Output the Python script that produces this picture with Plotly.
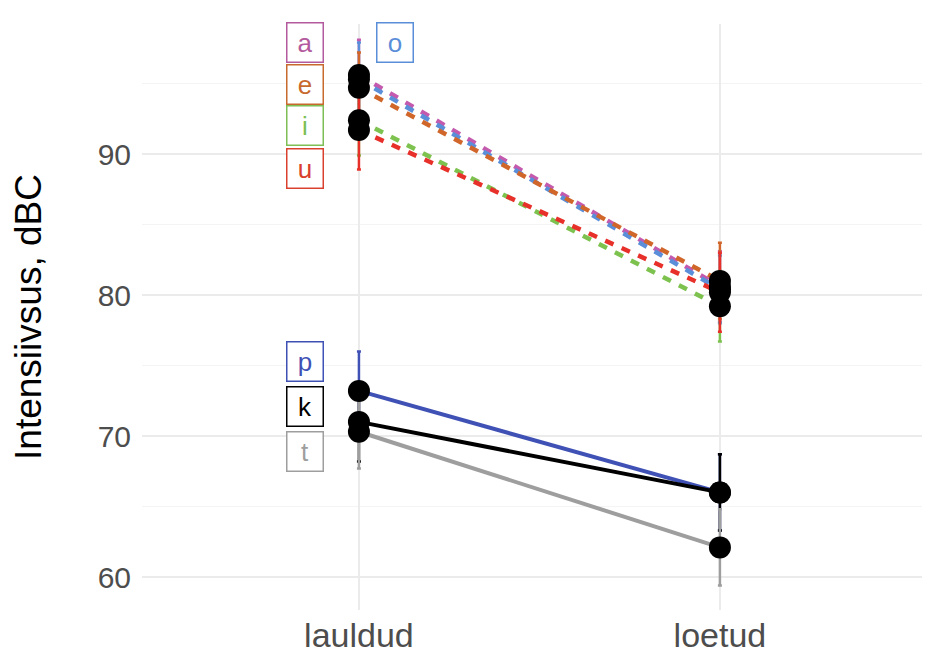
import plotly.graph_objects as go

conditions = ["lauldud", "loetud"]

vowels = ["a", "o", "e", "i", "u"]
vowel_means = {
    "a": [95.6, 80.6],
    "o": [95.3, 80.4],
    "e": [94.7, 81.0],
    "i": [92.4, 79.2],
    "u": [91.7, 80.2],
}
vowel_err = {
    "a": [2.5, 2.5],
    "o": [2.6, 2.4],
    "e": [2.5, 2.7],
    "i": [2.5, 2.5],
    "u": [2.8, 2.8],
}
consonants = ["p", "k", "t"]
cons_means = {
    "p": [73.2, 66.0],
    "k": [71.0, 66.0],
    "t": [70.3, 62.1],
}
cons_err = {
    "p": [2.8, 2.7],
    "k": [2.8, 2.7],
    "t": [2.6, 2.7],
}

colors = {
    "a": "#C45AAE", "o": "#5B8ED8", "e": "#D0662A", "i": "#7DC24E", "u": "#E8302A",
    "p": "#3F51B5", "k": "#000000", "t": "#9E9E9E",
}
label_colors = {
    "a": "#B35A9E", "o": "#5B8ED8", "e": "#C8692E", "i": "#7DBE55", "u": "#D9402E",
    "p": "#3F51B5", "k": "#000000", "t": "#9E9E9E",
}
# label anchor positions (x offset from first category, y in data units)
label_place = {
    "a": (-0.149, 97.9), "o": (0.10, 97.9), "e": (-0.149, 94.9), "i": (-0.149, 92.0),
    "u": (-0.149, 89.0), "p": (-0.149, 75.3), "k": (-0.149, 72.1), "t": (-0.149, 68.9),
}

xs = list(range(len(conditions)))
fig = go.Figure()

for v in vowels:
    fig.add_trace(go.Scatter(
        x=xs, y=vowel_means[v], mode="lines",
        line=dict(color=colors[v], width=4.5, dash="9px,9px"),
        error_y=dict(type="data", array=vowel_err[v], color=colors[v], thickness=2.5, width=2),
        showlegend=False, hoverinfo="skip"))

for c in consonants:
    fig.add_trace(go.Scatter(
        x=xs, y=cons_means[c], mode="lines",
        line=dict(color=colors[c], width=4),
        error_y=dict(type="data", array=cons_err[c], color=colors[c], thickness=2.5, width=2),
        showlegend=False, hoverinfo="skip"))

for key, series in list(vowel_means.items()) + list(cons_means.items()):
    fig.add_trace(go.Scatter(
        x=xs, y=series, mode="markers",
        marker=dict(color="black", size=22),
        showlegend=False, hoverinfo="skip"))

for key in vowels + consonants:
    lx, ly = label_place[key]
    fig.add_annotation(
        x=lx, y=ly, text=key, showarrow=False,
        font=dict(size=26, color=label_colors[key], family="Liberation Sans, Arial"),
        bgcolor="white", bordercolor=label_colors[key], borderwidth=1.5, borderpad=4,
        width=27, height=30)

fig.update_layout(
    width=930, height=653,
    margin=dict(l=134, r=8, t=16, b=51),
    plot_bgcolor="white", paper_bgcolor="white",
    font=dict(family="Liberation Sans, Arial", color="#4D4D4D"),
)
fig.update_xaxes(
    range=[-0.601, 1.582], tickvals=xs, ticktext=conditions,
    tickfont=dict(size=34, color="#4D4D4D"), ticklabelstandoff=2,
    showgrid=True, gridcolor="#EBEBEB", gridwidth=1.5, zeroline=False,
    ticks="", showline=False, automargin=False,
)
fig.update_yaxes(
    range=[57.66, 99.22], tickvals=[60, 70, 80, 90],
    tickfont=dict(size=30, color="#4D4D4D"), ticklabelstandoff=10,
    showgrid=True, gridcolor="#EBEBEB", gridwidth=1.5, zeroline=False,
    minor=dict(tickvals=[65, 75, 85, 95], showgrid=True, gridcolor="#F4F4F4", gridwidth=1),
    title=dict(text="Intensiivsus, dBC", font=dict(size=37, color="black"), standoff=49),
    ticks="", showline=False, automargin=False,
)

fig.write_html("out.html")
